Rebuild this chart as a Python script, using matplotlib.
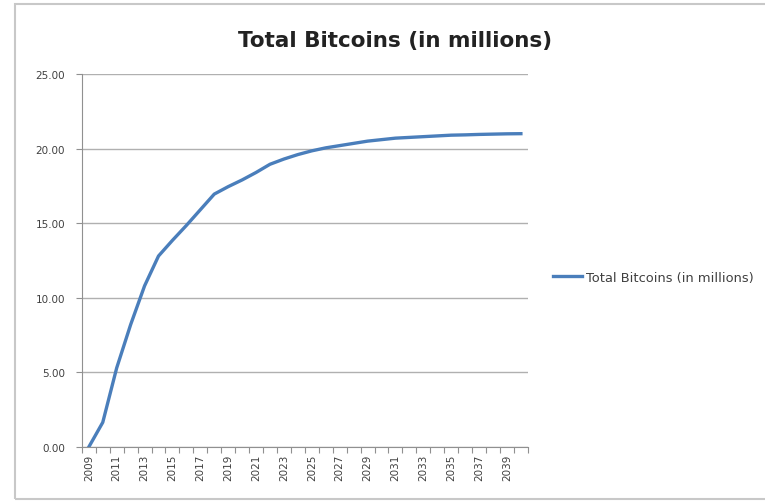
import matplotlib.pyplot as plt
from matplotlib.patches import Rectangle
from matplotlib.ticker import FormatStrFormatter

years = list(range(2009, 2041))
total_btc = [0.0, 1.65, 5.3, 8.2, 10.8, 12.8, 13.85, 14.85, 15.9, 16.95,
             17.45, 17.9, 18.4, 18.95, 19.3, 19.6, 19.85, 20.05, 20.2, 20.35,
             20.5, 20.6, 20.7, 20.75, 20.8, 20.85, 20.9, 20.92, 20.95, 20.97,
             20.99, 21.0]
series_name = 'Total Bitcoins (in millions)'

fig = plt.figure(figsize=(7.65, 5.02), dpi=100)
ax = fig.add_axes([0.107, 0.1076, 0.583, 0.743])

x = list(range(len(years)))
line, = ax.plot(x, total_btc, color='#4a7ebb', lw=2.4, label=series_name)

ax.set_xlim(-0.5, len(years) - 0.5)
ax.set_ylim(0, 25)
ax.set_yticks([0, 5, 10, 15, 20, 25])
ax.yaxis.set_major_formatter(FormatStrFormatter('%.2f'))
ax.grid(axis='y', color='#b0b0b0', lw=1)
ax.set_axisbelow(True)

# ticks at category boundaries, labels every 2nd year centred on category
ax.set_xticks([i - 0.5 for i in range(len(years) + 1)])
ax.set_xticklabels([])
ax.set_xticks(x[::2], minor=True)
ax.set_xticklabels([str(y) for y in years[::2]], minor=True, rotation=90,
                   fontsize=7.5, color='#404040')
ax.tick_params(axis='x', which='minor', length=0, pad=5)
ax.tick_params(axis='x', which='major', length=4, color='#909090', direction='out')
ax.tick_params(axis='y', length=4, color='#909090', labelsize=7.5,
               labelcolor='#404040', pad=8)

for side in ['top', 'right']:
    ax.spines[side].set_visible(False)
for side in ['left', 'bottom']:
    ax.spines[side].set_color('#909090')

fig.text(0.516, 0.918, 'Total Bitcoins (in millions)', ha='center', va='center',
         fontsize=15.5, fontweight='bold', color='#222222')

ax.legend(handles=[line], loc='center left', bbox_to_anchor=(1.03, 0.455),
          frameon=False, fontsize=9.4, handlelength=2.2, handletextpad=0.3,
          labelcolor='#404040')

# outer chart border
fig.patches.append(Rectangle((15 / 765, 2 / 502), 1.0, 495 / 502,
                             transform=fig.transFigure, fill=False,
                             edgecolor='#c8c8c8', lw=1.5))

fig.savefig('out.png', dpi=100)
